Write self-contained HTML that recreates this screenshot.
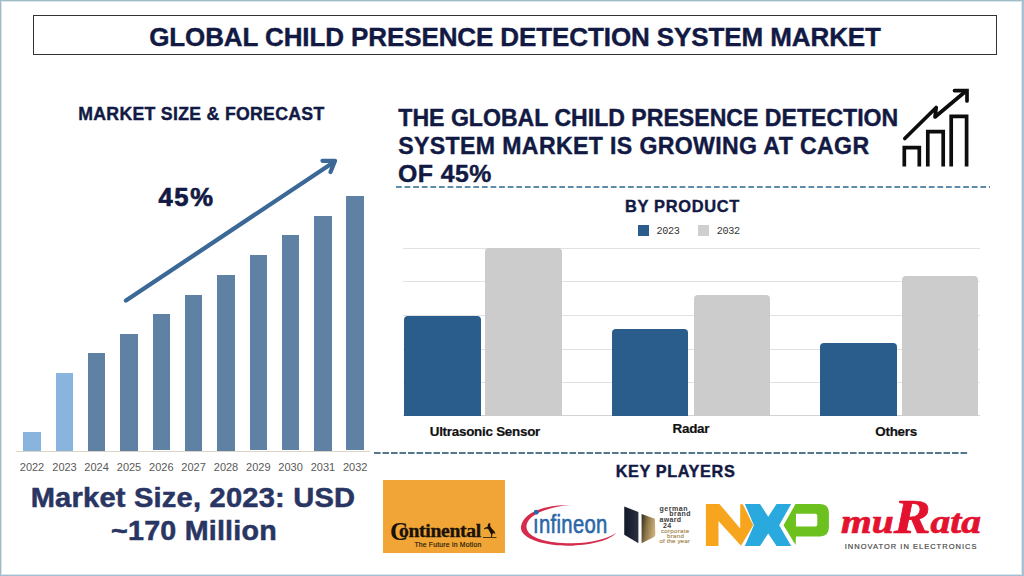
<!DOCTYPE html>
<html><head><meta charset="utf-8">
<style>
*{margin:0;padding:0;box-sizing:border-box}
html,body{width:1024px;height:576px;overflow:hidden;background:#fff}
body{position:relative;font-family:"Liberation Sans",sans-serif}
.frame{position:absolute;left:0;top:0;width:1024px;height:576px;border-top:1px solid #a4bcc6;border-left:1.5px solid #a4b8c6;border-right:2px solid #a9c0d2;border-bottom:1.5px solid #a4bcd0;box-shadow:inset 1px 1px 0 #d6e6ee,inset -1px -1px 0 #d6e6ee}
.t{position:absolute;white-space:nowrap;line-height:1}
.b{font-weight:bold}
.navy{color:#121a44;-webkit-text-stroke:0.4px #121a44}
.titlebox{position:absolute;left:33px;top:15px;width:964px;height:40px;border:1.5px solid #333}
.cx{transform:translateX(-50%)}
.bar{position:absolute;background:#5f81a3}
.bar.l{background:#89b4de}
.yr{position:absolute;font-size:11px;color:#595959;line-height:1;transform:translateX(-50%)}
.grid{position:absolute;left:403px;width:577px;height:1px;background:#e2e2e2}
.pb{position:absolute;border-radius:4px 4px 0 0}
.pb.a{background:#2a5d8c}
.pb.g{background:#cccccc}
.lbl{position:absolute;font-weight:bold;font-size:13.4px;letter-spacing:-0.25px;-webkit-text-stroke:0.2px #111;color:#111;line-height:1;transform:translateX(-50%)}
.dash{position:absolute;height:2px;background-image:linear-gradient(to right,#5f8cab 0,#5f8cab 6.2px,transparent 6.2px);background-size:8.6px 2px}
</style></head><body>
<div class="frame"></div>

<!-- Title -->
<div class="titlebox"></div>
<div class="t b navy cx" style="left:515px;top:23.8px;font-size:26px;letter-spacing:-0.1px">GLOBAL CHILD PRESENCE DETECTION SYSTEM MARKET</div>

<!-- Left: market size -->
<div class="t b navy cx" style="left:201.4px;top:106.3px;font-size:17.7px;letter-spacing:0.3px">MARKET SIZE &amp; FORECAST</div>
<div class="t b navy" style="left:158.5px;top:184.5px;font-size:25.6px;letter-spacing:1.6px;-webkit-text-stroke:0.7px #121a44">45%</div>

<!-- left bars -->
<div class="bar l" style="left:23px;top:431.5px;width:17.8px;height:19px"></div>
<div class="bar l" style="left:55.8px;top:372.5px;width:17.5px;height:78px"></div>
<div class="bar" style="left:87.5px;top:353px;width:17.7px;height:97.5px"></div>
<div class="bar" style="left:120.2px;top:333.5px;width:17.5px;height:117px"></div>
<div class="bar" style="left:152.6px;top:314.2px;width:17.5px;height:136.3px"></div>
<div class="bar" style="left:184.9px;top:294.5px;width:17.5px;height:156px"></div>
<div class="bar" style="left:217.2px;top:275px;width:17.5px;height:175.5px"></div>
<div class="bar" style="left:249.5px;top:255.3px;width:17.5px;height:195.2px"></div>
<div class="bar" style="left:281.8px;top:235.4px;width:17.5px;height:215.1px"></div>
<div class="bar" style="left:314.1px;top:216px;width:17.5px;height:234.5px"></div>
<div class="bar" style="left:346.4px;top:196.2px;width:17.5px;height:254.3px"></div>
<div style="position:absolute;left:16px;top:450.5px;width:354px;height:1px;background:#d9d3c8"></div>

<div class="yr" style="left:32px;top:462px">2022</div>
<div class="yr" style="left:64.5px;top:462px">2023</div>
<div class="yr" style="left:96.6px;top:462px">2024</div>
<div class="yr" style="left:129px;top:462px">2025</div>
<div class="yr" style="left:161.3px;top:462px">2026</div>
<div class="yr" style="left:193.6px;top:462px">2027</div>
<div class="yr" style="left:226px;top:462px">2028</div>
<div class="yr" style="left:258.3px;top:462px">2029</div>
<div class="yr" style="left:290.6px;top:462px">2030</div>
<div class="yr" style="left:322.9px;top:462px">2031</div>
<div class="yr" style="left:355.2px;top:462px">2032</div>

<!-- arrow -->
<svg style="position:absolute;left:0;top:0" width="1024" height="576">
<g stroke="#3b6896" stroke-width="4.3" stroke-linecap="round" stroke-linejoin="round" fill="none">
<line x1="126" y1="300.5" x2="334" y2="162"/>
<polyline points="322.5,160.8 335,160.8 330.5,172"/>
</g>
</svg>

<!-- Market size text -->
<div class="t b" style="left:193px;top:484.3px;font-size:27.3px;letter-spacing:0.2px;color:#293562;-webkit-text-stroke:0.5px #293562;transform:translateX(-50%) scaleX(1.065)">Market Size, 2023: USD</div>
<div class="t b" style="left:193.6px;top:516.9px;font-size:27.3px;letter-spacing:0.2px;color:#293562;-webkit-text-stroke:0.5px #293562;transform:translateX(-50%) scaleX(1.05)">~170 Million</div>

<!-- right heading -->
<div class="t b navy" style="left:398.3px;top:103.8px;font-size:23.1px;line-height:28.3px"><div>THE GLOBAL CHILD PRESENCE DETECTION</div><div style="letter-spacing:0.37px">SYSTEM MARKET IS GROWING AT CAGR</div><div style="letter-spacing:0.4px;transform-origin:0 0;transform:scaleX(1.075)">OF 45%</div></div>

<div class="dash" style="left:395.5px;top:186px;width:594px"></div>

<!-- BY PRODUCT -->
<div class="t b navy cx" style="left:682.5px;top:198.1px;font-size:16.4px;letter-spacing:0.7px">BY PRODUCT</div>


<!-- legend -->
<div style="position:absolute;left:638px;top:225.3px;width:10.8px;height:10.5px;background:#2a5d8c"></div>
<div style="position:absolute;left:698.3px;top:225.3px;width:11.2px;height:10.5px;background:#cfcfcf"></div>
<div class="t" style="left:656.5px;top:227.3px;font-family:'Liberation Mono',monospace;font-size:10.2px;color:#333;letter-spacing:-0.4px">2023</div>
<div class="t" style="left:716.8px;top:227.3px;font-family:'Liberation Mono',monospace;font-size:10.2px;color:#333;letter-spacing:-0.4px">2032</div>

<!-- grid -->
<div class="grid" style="top:248px"></div>
<div class="grid" style="top:281.4px"></div>
<div class="grid" style="top:314.8px"></div>
<div class="grid" style="top:348.5px"></div>
<div class="grid" style="top:382px"></div>
<div style="position:absolute;left:403px;top:415.2px;width:577px;height:1.3px;background:#d2d2d2"></div>

<div class="pb a" style="left:404px;top:315.6px;width:76.8px;height:100px"></div>
<div class="pb g" style="left:485.2px;top:248.4px;width:76.6px;height:167.2px"></div>
<div class="pb a" style="left:611.8px;top:329.4px;width:76.4px;height:86.2px"></div>
<div class="pb g" style="left:693.5px;top:295.4px;width:76.2px;height:120.2px"></div>
<div class="pb a" style="left:820.2px;top:342.5px;width:76.6px;height:73.1px"></div>
<div class="pb g" style="left:902px;top:275.7px;width:76.2px;height:139.9px"></div>

<div class="lbl" style="left:484.9px;top:425.4px">Ultrasonic Sensor</div>
<div class="lbl" style="left:690.9px;top:422.4px">Radar</div>
<div class="lbl" style="left:896.1px;top:425.2px">Others</div>

<div class="dash" style="left:374px;top:452.4px;width:594px;background-image:linear-gradient(to right,#56788f 0,#56788f 6.2px,transparent 6.2px);background-size:8.5px 2px"></div>

<div class="t b navy cx" style="left:675.5px;top:462.6px;font-size:16.3px;letter-spacing:0.6px">KEY PLAYERS</div>

<!-- growth icon -->
<svg style="position:absolute;left:0;top:0" width="1024" height="576">
<g stroke="#0d0d0d" stroke-width="3.7" fill="none" stroke-linejoin="miter">
<polyline points="904.3,166.5 904.3,147.6 919.3,147.6 919.3,166.5"/>
<polyline points="927.8,166.5 927.8,131.7 943.2,131.7 943.2,166.5"/>
<polyline points="951.2,166.5 951.2,116.4 966.6,116.4 966.6,166.5"/>
<polyline points="904.8,138.5 936.2,107.5 935,117 966,91" stroke-linecap="round" stroke-linejoin="round"/>
<polyline points="954.5,90.6 967,90.6 967,101" stroke-linecap="round"/>
</g>
</svg>

<!-- Continental -->
<div style="position:absolute;left:383px;top:479.5px;width:122px;height:73.2px;background:#f0a536"></div>
<div class="t" style="left:390px;top:519px;font-family:'Liberation Serif',serif;font-weight:bold;font-size:25px;color:#1a1208">C</div>
<div class="t" style="left:399px;top:521.6px;font-family:'Liberation Serif',serif;font-weight:bold;font-size:18.5px;color:#1a1208;letter-spacing:-0.3px;-webkit-text-stroke:0.35px #1a1208;transform-origin:0 0;transform:scaleX(1.06)">ontinental</div>
<svg style="position:absolute;left:478px;top:518px" width="24" height="24" viewBox="0 0 24 24">
<path d="M9.8,6.8 L11,5 L12.3,5.6 L12.2,8.2 L14.2,11 L16.6,13.4 L17.4,16.2 L16.3,15.6 L15.6,14.8 L14.3,16.6 L14,19 L13,19 L13.2,16.4 L11.6,13.4 L10.2,11 L8.4,10.6 L6.4,11.4 L6,10.4 L7.8,9.2 L9.6,8.8 Z" fill="#1a1208"/>
<rect x="5" y="19" width="13.4" height="0.9" fill="#3a2a10"/>
</svg>
<div class="t" style="left:414.4px;top:542.2px;font-size:6.8px;color:#24180a;-webkit-text-stroke:0.15px #24180a;letter-spacing:0.22px">The Future in Motion</div>

<!-- Infineon -->
<svg style="position:absolute;left:515px;top:500px" width="105" height="52" viewBox="0 0 1024 507">
<path d="M540 52 C 300 40, 80 120, 58 260 C 45 390, 330 455, 560 445 C 760 438, 930 390, 990 318 C 900 385, 740 420, 560 422 C 330 425, 120 370, 112 265 C 110 140, 330 65, 540 52 Z" fill="#d52b4c"/>
<circle cx="207" cy="120" r="24" fill="#2a67a8"/>
</svg>
<div class="t" style="left:533.4px;top:512.4px;font-size:25px;color:#2a67a8;-webkit-text-stroke:0.6px #2a67a8;transform-origin:0 0;transform:scaleX(0.81);letter-spacing:0.4px">&#305;nfineon</div>

<!-- German brand award -->
<svg style="position:absolute;left:618px;top:500px" width="80" height="50" viewBox="0 0 922 576">
<defs><linearGradient id="gold" x1="0" y1="0" x2="1" y2="0.3"><stop offset="0" stop-color="#2e2a20"/><stop offset="0.45" stop-color="#8a7446"/><stop offset="1" stop-color="#c9ad78"/></linearGradient>
<linearGradient id="dk" x1="0" y1="0" x2="1" y2="0"><stop offset="0" stop-color="#121826"/><stop offset="1" stop-color="#2a3040"/></linearGradient></defs>
<path d="M72 75 L235 138 L235 497 L72 400 Z" fill="url(#dk)"/>
<path d="M272 160 L425 215 L430 395 Q432 412 415 425 L272 497 Z" fill="url(#gold)"/>
</svg>
<div style="position:absolute;left:0;top:0;font-family:'Liberation Sans',sans-serif;font-weight:bold;font-size:7px;line-height:1;color:#3c3c3c">
<div class="t" style="left:659.5px;top:504.6px;letter-spacing:0.55px">german</div>
<div class="t" style="left:669.2px;top:510.2px;letter-spacing:0.5px">brand</div>
<div class="t" style="left:659.5px;top:516.2px;letter-spacing:0.3px">award</div>
<div class="t" style="left:663px;top:522.4px;letter-spacing:0.3px">24</div>
</div>
<div style="position:absolute;left:0;top:0;font-family:'Liberation Sans',sans-serif;font-size:6.2px;line-height:1;color:#a8894f;-webkit-text-stroke:0.15px #a8894f">
<div class="t" style="left:661px;top:528.4px;letter-spacing:0.25px">corporate</div>
<div class="t" style="left:667px;top:532.8px;letter-spacing:0.3px">brand</div>
<div class="t" style="left:659.5px;top:537.6px;letter-spacing:0.1px">of the year</div>
</div>
<!-- NXP -->
<svg style="position:absolute;left:700px;top:495px" width="140" height="60" viewBox="0 0 1024 439">
<path d="M43 65 L142 65 L294 246 L294 68 L313 68 L389 221 L300 372 L135 190 L135 373 L43 373 Z" fill="#f6a51c"/>
<path d="M328 65 L439 65 L499 160 L560 65 L667 65 L579 221 L667 373 L560 373 L499 281 L439 373 L328 373 L394 221 Z" fill="#2aa9df"/>
<path d="M699 65 L878 65 Q943 65 943 132 L943 238 Q943 303 878 303 L702 303 L699 366 L611 221 Z M702 138 L843 138 Q858 138 858 152 L858 216 Q858 230 843 230 L702 230 Z" fill="#6cc11f" fill-rule="evenodd"/>
</svg>

<!-- muRata -->
<svg style="position:absolute;left:0;top:0" width="1024" height="576">
<text x="841" y="532.8" font-family="Liberation Serif" font-weight="bold" font-style="italic" font-size="34" fill="#e3122f" stroke="#e3122f" stroke-width="0.7" textLength="140" lengthAdjust="spacingAndGlyphs">mu<tspan font-size="47.5">R</tspan>ata</text>
</svg>
<div class="t" style="left:844.7px;top:543.2px;font-size:7.5px;color:#4a4a4a;-webkit-text-stroke:0.2px #4a4a4a;letter-spacing:1.02px">INNOVATOR IN ELECTRONICS</div>
</body></html>
